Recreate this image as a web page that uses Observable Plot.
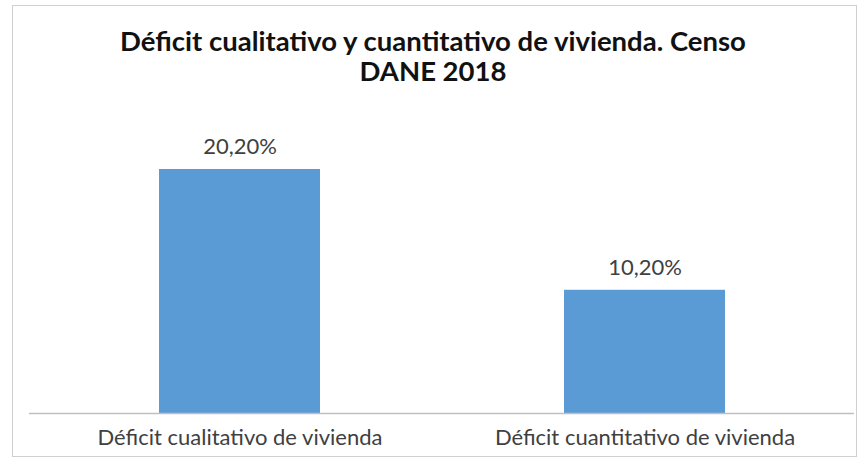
<!DOCTYPE html>
<html>
<head>
<meta charset="utf-8">
<script src="https://cdn.jsdelivr.net/npm/d3@7"></script>
<script src="https://cdn.jsdelivr.net/npm/@observablehq/plot@0.6"></script>
<style>
  html, body { margin: 0; padding: 0; background: #fff; }
  body { width: 866px; height: 463px; position: relative; overflow: hidden; font-family: Lato, "Open Sans", sans-serif; }
  #frame { position: absolute; left: 12px; top: 5px; width: 845px; height: 452px; border: 1px solid #d0d0d0; box-sizing: border-box; }
  #title { position: absolute; left: 0; top: 26px; width: 866px; text-align: center; font-weight: bold; font-size: 27.5px; line-height: 30px; color: #111; }
  #chart { position: absolute; left: 0; top: 100px; }
</style>
</head>
<body>
<div id="frame"></div>
<div id="title">Déficit cualitativo y cuantitativo de vivienda. Censo<br>DANE 2018</div>
<div id="chart"></div>
<script>
const categories = ["Déficit cualitativo de vivienda", "Déficit cuantitativo de vivienda"];
const values = [20.2, 10.2];

const data = categories.map((c, i) => ({category: c, value: values[i]}));
const fmt = v => v.toFixed(2).replace(".", ",") + "%";

const chart = Plot.plot({
  width: 866,
  height: 358,
  marginLeft: 29,
  marginRight: 12,
  marginTop: 11,
  marginBottom: 45,
  style: {fontFamily: "Lato, 'Open Sans', sans-serif", background: "transparent"},
  x: {domain: categories, paddingInner: 0.603, paddingOuter: 0.318},
  y: {domain: [0, 25], axis: null},
  marks: [
    Plot.barY(data, {x: "category", y: "value", fill: "#5B9BD5"}),
    Plot.ruleY([0], {stroke: "#bfbfbf", strokeWidth: 1.5}),
    Plot.text(data, {x: "category", y: "value", text: d => fmt(d.value), dy: -15, lineAnchor: "bottom", fontSize: 22, fill: "#404040"}),
    Plot.axisX({tickSize: 0, tickPadding: 16, label: null, fontSize: 22, color: "#404040"})
  ]
});
document.getElementById("chart").appendChild(chart);
</script>
</body>
</html>
